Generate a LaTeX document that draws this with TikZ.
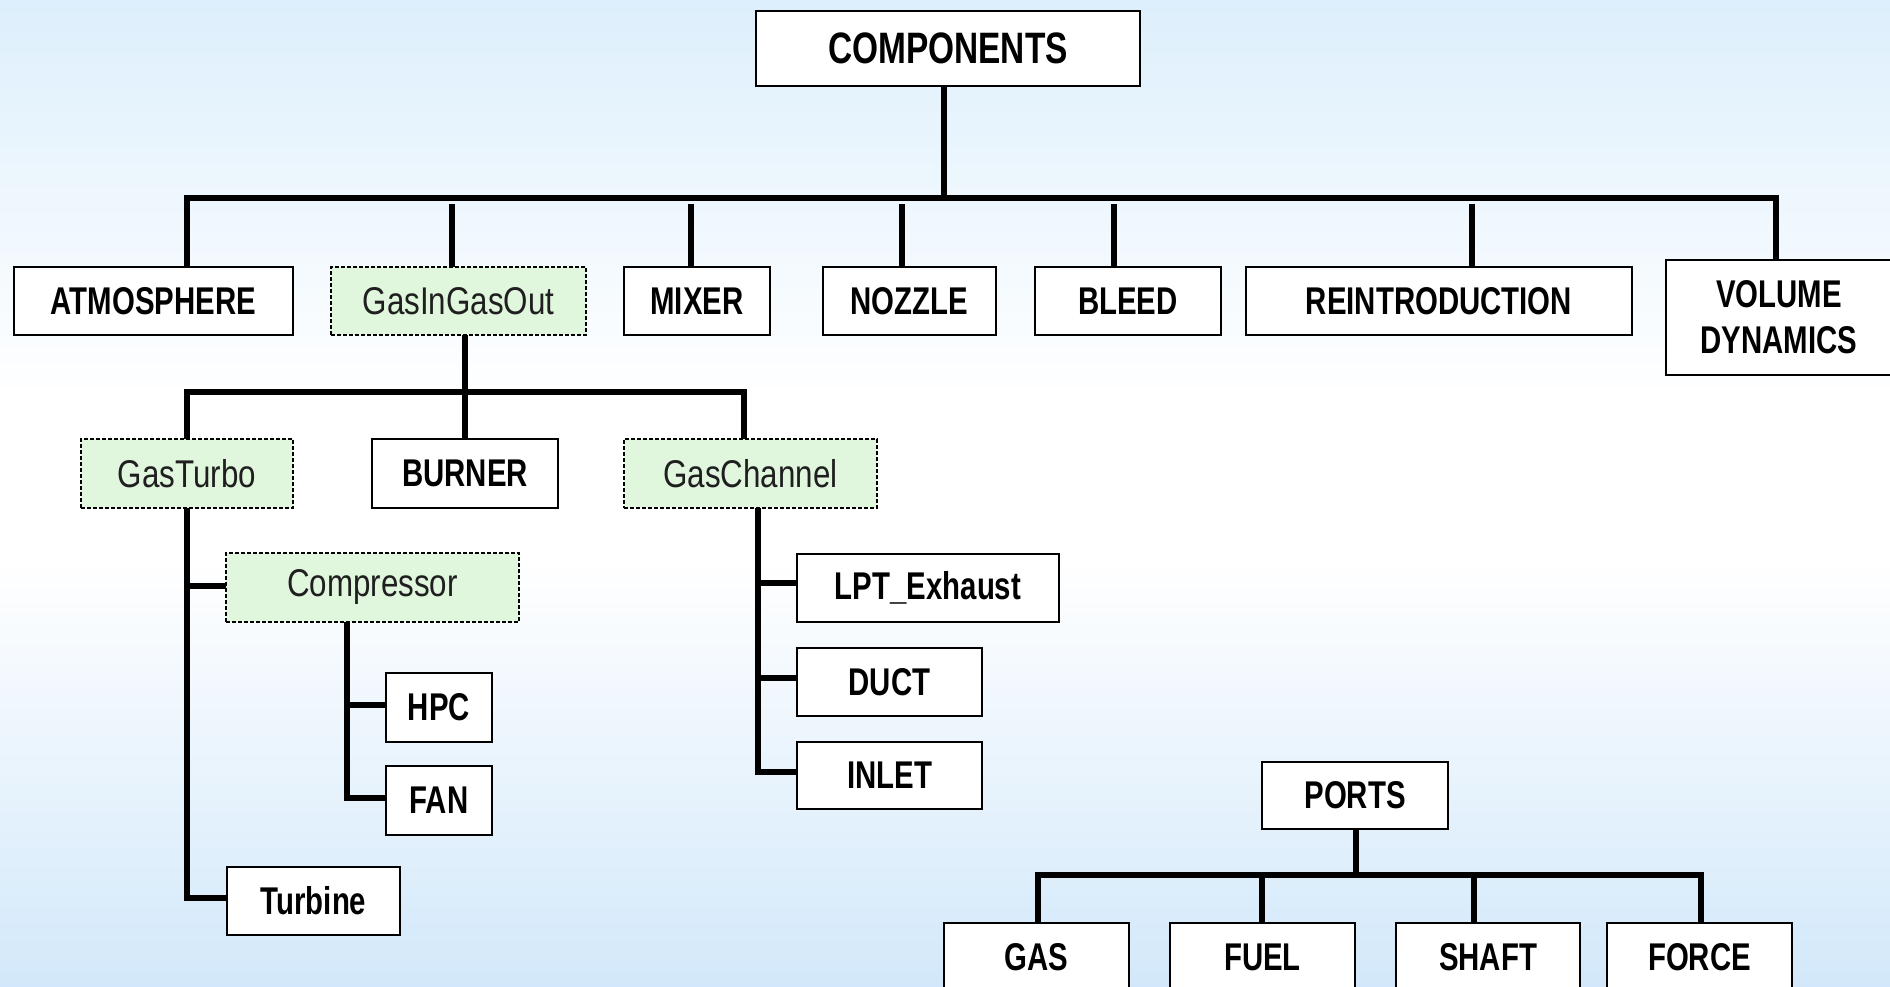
\documentclass[tikz,border=0pt]{standalone}
\usepackage{fontspec}
\newfontfamily\labfont[FakeStretch=0.76]{Liberation Sans}
\newfontfamily\grnfont[FakeStretch=0.81]{Liberation Sans}
\definecolor{bgtop}{HTML}{DDEFFC}
\definecolor{bgbot}{HTML}{D2E8FA}
\definecolor{grnfill}{HTML}{E0F6DD}
\begin{document}
\begin{tikzpicture}[x=0.75pt,y=-0.75pt,
  sz/.style 2 args={minimum width=#1*0.75pt,minimum height=#2*0.75pt},
  box/.style={draw=black,line width=1.5pt,fill=white,inner sep=0pt,outer sep=0pt,
    align=center,font=\labfont\bfseries\fontsize{29}{35}\selectfont},
  gbox/.style={draw=black,line width=0.9pt,dash pattern=on 3pt off 1.5pt,fill=grnfill,
    inner sep=0pt,outer sep=0pt,align=center,text=black!88,
    font=\grnfont\fontsize{29}{35}\selectfont},
  wire/.style={line width=5pt,line join=miter,line cap=butt}]
\useasboundingbox (0,0) rectangle (1890,987);
\shade[top color=bgtop,bottom color=white] (0,0) rectangle (1890,400);
\fill[white] (0,399) rectangle (1890,561);
\shade[top color=white,bottom color=bgbot] (0,560) rectangle (1890,987);
\clip (0,0) rectangle (1890,987);

% level 0
\node[box,sz={384}{75},font=\labfont\bfseries\fontsize{33}{38}\selectfont] (comp) at (948,48.5) {COMPONENTS};
% level 1
\node[box,sz={279}{68}] (atm) at (153.5,301) {ATMOSPHERE};
\node[gbox,sz={255}{68}] (gig) at (458.5,301) {GasInGasOut};
\node[box,sz={146}{68}] (mix) at (697,301) {MIXER};
\node[box,sz={173}{68}] (noz) at (909.5,301) {NOZZLE};
\node[box,sz={186}{68}] (ble) at (1128,301) {BLEED};
\node[box,sz={386}{68}] (rei) at (1439,301) {REINTRODUCTION};
\node[box,sz={226}{115},font=\labfont\bfseries\fontsize{29}{34.5}\selectfont] (vol) at (1779,317.5) {VOLUME\\DYNAMICS};
% level 2
\node[gbox,sz={212}{69}] (gt) at (187,473.5) {GasTurbo};
\node[box,sz={186}{69}] (bur) at (465,473.5) {BURNER};
\node[gbox,sz={253}{69}] (gc) at (750.5,473.5) {GasChannel};
% GasTurbo subtree
\node[gbox,sz={293}{69}] (cmp) at (372.5,587.5) {Compressor};
\node[box,sz={106}{69}] (hpc) at (439,707.5) {HPC};
\node[box,sz={106}{69}] (fan) at (439,800.5) {FAN};
\node[box,sz={173}{68}] (tur) at (313.5,901) {Turbine};
% GasChannel subtree
\node[box,sz={262}{68}] (lpt) at (928,588) {LPT\_Exhaust};
\node[box,sz={185}{68}] (duc) at (889.5,682) {DUCT};
\node[box,sz={185}{67}] (inl) at (889.5,775.5) {INLET};
% ports
\node[box,sz={186}{67}] (por) at (1355,795.5) {PORTS};
\node[box,sz={185}{68}] (gas) at (1036.5,957) {GAS};
\node[box,sz={185}{68}] (fue) at (1262.5,957) {FUEL};
\node[box,sz={184}{68}] (sha) at (1488,957) {SHAFT};
\node[box,sz={185}{68}] (for) at (1699.5,957) {FORCE};

% connectors level 0-1
\coordinate (c0) at (944,198);
\coordinate (s1) at (187,198);
\coordinate (s2) at (452,204);
\coordinate (s3) at (691,204);
\coordinate (s4) at (902,204);
\coordinate (s5) at (1114,204);
\coordinate (s6) at (1472,204);
\coordinate (s7) at (1776,198);
\draw[wire] (c0 |- comp.south) -- (c0);
\draw[wire] (s1 |- atm.north) -- (s1) -- (s7) -- (s7 |- vol.north);
\draw[wire] (s2) -- (s2 |- gig.north);
\draw[wire] (s3) -- (s3 |- mix.north);
\draw[wire] (s4) -- (s4 |- noz.north);
\draw[wire] (s5) -- (s5 |- ble.north);
\draw[wire] (s6) -- (s6 |- rei.north);
% level 1-2
\coordinate (t2L) at (187,392);
\coordinate (t2M) at (465,392);
\coordinate (t2R) at (744,392);
\draw[wire] (t2L |- gt.north) -- (t2L) -- (t2R) -- (t2R |- gc.north);
\draw[wire] (t2M |- gig.south) -- (t2M |- bur.north);
% GasTurbo subtree
\coordinate (g3) at (187,898);
\coordinate (g3c) at (187,586);
\draw[wire] (g3 |- gt.south) -- (g3) -- (g3 -| tur.west);
\draw[wire] (g3c) -- (g3c -| cmp.west);
\coordinate (k1) at (347,798);
\coordinate (k2) at (347,705);
\draw[wire] (k1 |- cmp.south) -- (k1) -- (k1 -| fan.west);
\draw[wire] (k2) -- (k2 -| hpc.west);
% GasChannel subtree
\coordinate (h1) at (758,772);
\coordinate (h2) at (758,583);
\coordinate (h3) at (758,678);
\draw[wire] (h1 |- gc.south) -- (h1) -- (h1 -| inl.west);
\draw[wire] (h2) -- (h2 -| lpt.west);
\draw[wire] (h3) -- (h3 -| duc.west);
% ports
\coordinate (p0) at (1356,875);
\coordinate (p1) at (1038,875);
\coordinate (p2) at (1262,875);
\coordinate (p3) at (1474,875);
\coordinate (p4) at (1701,875);
\draw[wire] (p0 |- por.south) -- (p0);
\draw[wire] (p1 |- gas.north) -- (p1) -- (p4) -- (p4 |- for.north);
\draw[wire] (p2) -- (p2 |- fue.north);
\draw[wire] (p3) -- (p3 |- sha.north);
\end{tikzpicture}
\end{document}
